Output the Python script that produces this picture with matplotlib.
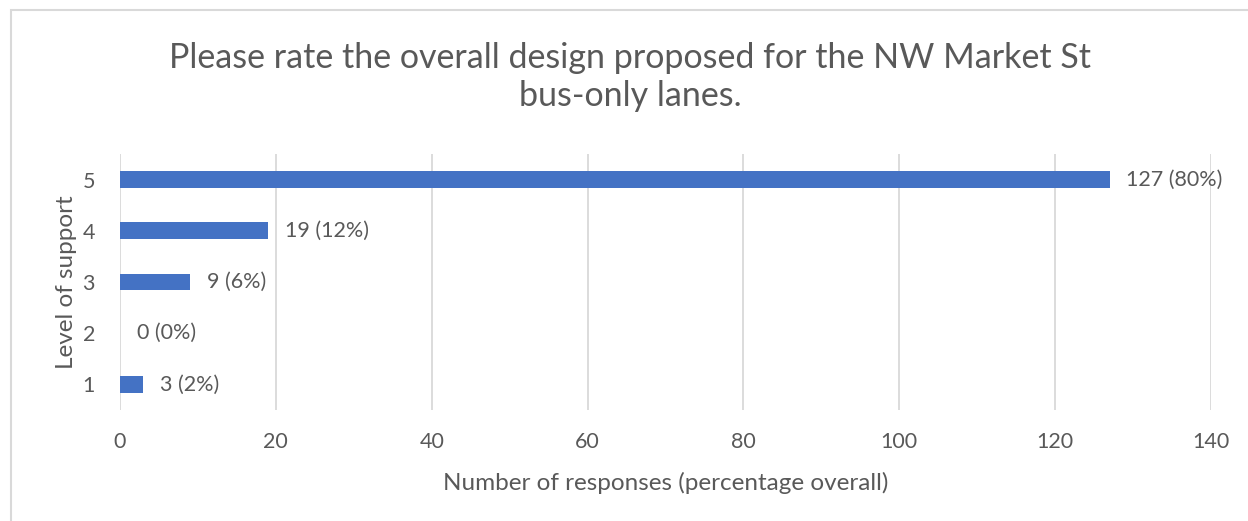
import matplotlib.pyplot as plt
from matplotlib.patches import Rectangle

# survey responses per support level
levels = ["1", "2", "3", "4", "5"]
counts = [3, 0, 9, 19, 127]
percents = [2, 0, 6, 12, 80]

title = "Please rate the overall design proposed for the NW Market St\nbus-only lanes."
xlabel = "Number of responses (percentage overall)"
ylabel = "Level of support"

plt.rcParams['font.family'] = ['Lato', 'DejaVu Sans']
text_col = '#595959'
bar_col = '#4472C4'
grid_col = '#D9D9D9'

W, H = 1248, 521
fig = plt.figure(figsize=(W / 100, H / 100), dpi=100)

# chart frame (only left and top edges fall inside the image)
fig.patches.append(Rectangle((10.5 / W, -0.1), 1.2, (H - 10) / H + 0.1,
                             transform=fig.transFigure, fill=False,
                             edgecolor='#D9D9D9', linewidth=1.5))

ax = fig.add_axes([120 / W, 1 - 410 / H, (1211 - 120) / W, (410 - 154) / H])
pos = range(1, len(levels) + 1)
ax.barh(pos, counts, height=0.33, color=bar_col, zorder=3)

for y, c, p in zip(pos, counts, percents):
    ax.annotate(f"{c} ({p}%)", (c, y), xytext=(12, 0), textcoords='offset points',
                va='center', ha='left', fontsize=15.5, color=text_col)

ax.set_xlim(0, 140)
ax.set_ylim(0.5, 5.5)
ax.set_xticks(range(0, 141, 20))
ax.set_yticks(list(pos))
ax.set_yticklabels(levels)
ax.tick_params(axis='both', length=0, labelsize=15.5, labelcolor=text_col)
ax.tick_params(axis='x', pad=16)
ax.tick_params(axis='y', pad=18)
ax.grid(axis='x', color=grid_col, linewidth=1.3, zorder=0)
for s in ax.spines.values():
    s.set_visible(False)

ax.set_xlabel(xlabel, fontsize=17.5, color=text_col, labelpad=14)
ax.set_ylabel(ylabel, fontsize=17.5, color=text_col, labelpad=4)

fig.text(0.505, 1 - 77 / H, title, ha='center', va='center', fontsize=24.5,
         color=text_col, linespacing=1.25)

fig.savefig("out.png", dpi=100)
